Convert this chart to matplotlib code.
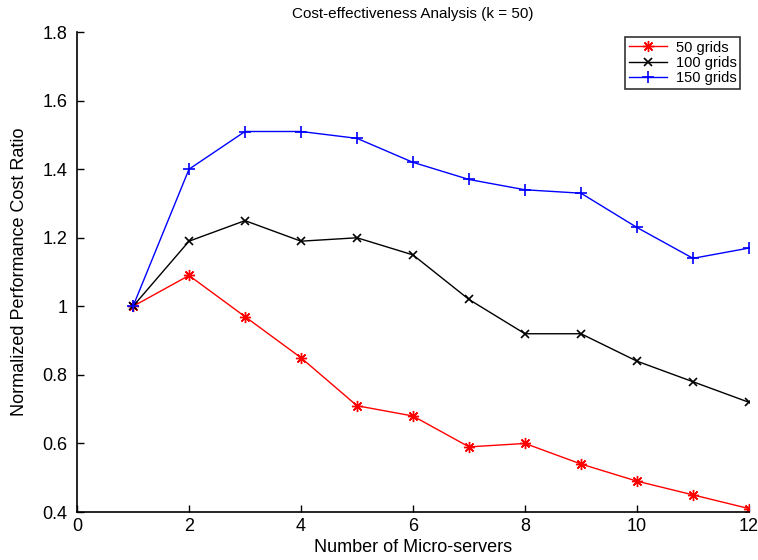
import matplotlib
matplotlib.use('Agg')
import matplotlib.pyplot as plt
from matplotlib.ticker import FormatStrFormatter

plt.rcParams['font.family'] = ['Liberation Sans', 'DejaVu Sans']

servers = [1, 2, 3, 4, 5, 6, 7, 8, 9, 10, 11, 12]
grids_50 = [1.00, 1.09, 0.97, 0.85, 0.71, 0.68, 0.59, 0.60, 0.54, 0.49, 0.45, 0.41]
grids_100 = [1.00, 1.19, 1.25, 1.19, 1.20, 1.15, 1.02, 0.92, 0.92, 0.84, 0.78, 0.72]
grids_150 = [1.00, 1.40, 1.51, 1.51, 1.49, 1.42, 1.37, 1.34, 1.33, 1.23, 1.14, 1.17]
labels = ['50 grids', '100 grids', '150 grids']

fig = plt.figure(figsize=(7.58, 5.6), dpi=100)
ax = fig.add_axes([0.1016, 0.0857, 0.8865, 0.857])

# asterisk marker like matlab's '*'
ax.plot(servers, grids_50, color='red', lw=1, marker=(8, 2, 0), ms=8, mew=1, label=labels[0])
ax.plot(servers, grids_100, color='black', lw=1, marker='x', ms=6, mew=1.2, label=labels[1])
ax.plot(servers, grids_150, color='blue', lw=1, marker='+', ms=9, mew=1.2, label=labels[2])

ax.set_xlim(0, 12)
ax.set_ylim(0.4, 1.8)
ax.set_xticks(range(0, 13, 2))
ax.set_yticks([0.4, 0.6, 0.8, 1.0, 1.2, 1.4, 1.6, 1.8])
ax.yaxis.set_major_formatter(FormatStrFormatter('%g'))

for s in ['top', 'right']:
    ax.spines[s].set_visible(False)
for s in ['left', 'bottom']:
    ax.spines[s].set_linewidth(1.2)
ax.tick_params(direction='in', length=5, width=1, labelsize=13)
ax.tick_params(axis='y', pad=7)
ax.tick_params(axis='x', pad=4)

ax.set_title('Cost-effectiveness Analysis (k = 50)', fontsize=11, pad=10)
ax.set_xlabel('Number of Micro-servers', fontsize=13, labelpad=3)
ax.set_ylabel('Normalized Performance Cost Ratio', fontsize=13, labelpad=10)

leg = ax.legend(loc='upper right', bbox_to_anchor=(0.987, 0.99), borderaxespad=0,
                fontsize=10.5, frameon=True, fancybox=False, edgecolor='black',
                handlelength=2.6, borderpad=0.25, labelspacing=0.1, handletextpad=0.6)
leg.get_frame().set_linewidth(1.2)

fig.savefig('out.png', dpi=100)
